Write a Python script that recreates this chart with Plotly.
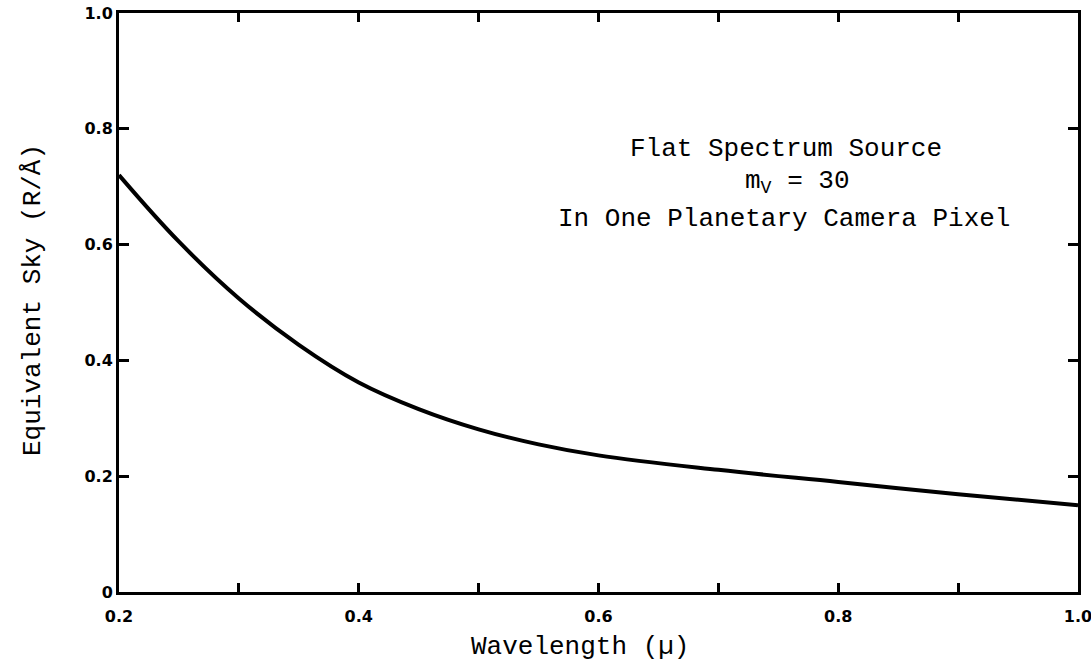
import plotly.graph_objects as go

# Data
wavelength = [0.20, 0.25, 0.30, 0.35, 0.40, 0.45, 0.50, 0.55, 0.60, 0.70, 0.80, 0.90, 1.00]
equiv_sky = [0.72, 0.605, 0.507, 0.427, 0.362, 0.316, 0.281, 0.255, 0.236, 0.211, 0.19, 0.169, 0.15]

x_tickvals = [0.2, 0.4, 0.6, 0.8, 1.0]
x_ticktext = ["0.2", "0.4", "0.6", "0.8", "1.0"]
y_tickvals = [0.0, 0.2, 0.4, 0.6, 0.8, 1.0]
y_ticktext = ["0", "0.2", "0.4", "0.6", "0.8", "1.0"]

TYPE_FONT = "Liberation Mono, Courier New, monospace"

fig = go.Figure()
fig.add_trace(go.Scatter(
    x=wavelength, y=equiv_sky, mode="lines",
    line=dict(color="black", width=4, shape="spline", smoothing=1.1),
    showlegend=False, hoverinfo="skip",
))

axis_common = dict(
    showgrid=False, zeroline=False, showline=True, linecolor="black", linewidth=3,
    mirror="ticks", ticks="inside", tickcolor="black", tickwidth=3, automargin=False,
    ticklabeloverflow="allow",
)
fig.update_xaxes(range=[0.2, 1.0], tickvals=x_tickvals, ticktext=x_ticktext,
                 ticklen=9, ticklabelstandoff=8,
                 minor=dict(dtick=0.1, tick0=0.2, ticks="inside", ticklen=9,
                            tickwidth=3, tickcolor="black", showgrid=False),
                 **axis_common)
fig.update_yaxes(range=[0.0, 1.0], tickvals=y_tickvals, ticktext=y_ticktext,
                 ticklen=10, **axis_common)
fig.update_xaxes(tickfont=dict(family="DejaVu Sans", size=16, color="black", weight=900))
fig.update_yaxes(tickfont=dict(family="DejaVu Sans", size=16, color="black", weight=900))

annotations = [
    dict(text="Flat Spectrum Source", x=786, y=149),
    dict(text="m<sub>V</sub> = 30", x=797, y=182),
    dict(text="In One Planetary Camera Pixel", x=784, y=219),
]
for a in annotations:
    fig.add_annotation(
        text=a["text"], xref="paper", yref="paper",
        x=(a["x"] - 119) / (1078 - 119), y=1 - (a["y"] - 13) / (592 - 13),
        showarrow=False, xanchor="center", yanchor="middle",
        font=dict(family=TYPE_FONT, size=26, color="black"),
    )

fig.add_annotation(
    text="Wavelength (µ)", xref="paper", yref="paper",
    x=(580 - 119) / (1078 - 119), y=1 - (647 - 13) / (592 - 13),
    showarrow=False, xanchor="center", yanchor="middle",
    font=dict(family=TYPE_FONT, size=26, color="black"),
)
fig.add_annotation(
    text="Equivalent Sky (R/Å)", xref="paper", yref="paper",
    x=(33 - 119) / (1078 - 119), y=1 - (300 - 13) / (592 - 13),
    showarrow=False, xanchor="center", yanchor="middle", textangle=-90,
    font=dict(family=TYPE_FONT, size=26, color="black"),
)

fig.update_layout(
    width=1091, height=667,
    margin=dict(l=119, r=13, t=13, b=75),
    paper_bgcolor="white", plot_bgcolor="white",
)

fig.write_html("out.html")
